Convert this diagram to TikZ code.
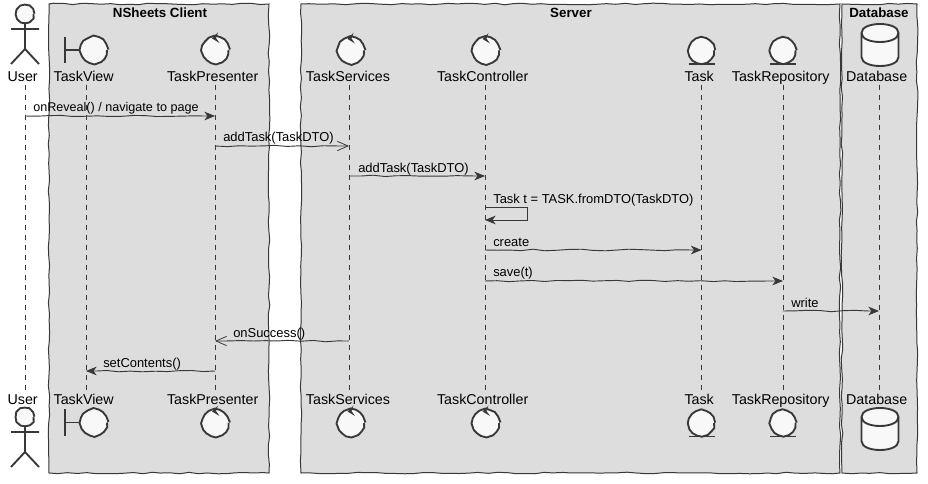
\documentclass[tikz,border=0pt]{standalone}
\usepackage{fontspec}
\setmainfont{Liberation Sans}
\usetikzlibrary{arrows.meta,decorations.pathmorphing}
\definecolor{ink}{HTML}{383838}
\definecolor{boxbg}{HTML}{DDDDDD}
\definecolor{headbg}{HTML}{F8F8F8}
\tikzset{
  wob/.style={decorate,decoration={random steps,segment length=7pt,amplitude=0.6pt}},
  wobc/.style={decorate,decoration={random steps,segment length=3.5pt,amplitude=0.3pt}},
  groupbox/.style={draw=ink,line width=0.75pt,fill=boxbg,wob},
  grouptitle/.style={font=\fontsize{10}{12}\selectfont\bfseries,text=black,inner sep=0pt},
  plabel/.style={font=\fontsize{10.7}{13}\selectfont,text=black,inner sep=0pt,text height=8pt,text depth=2.4pt},
  mlabel/.style={font=\fontsize{9.7}{11}\selectfont,text=black,inner sep=0pt,anchor=base west},
  lifeline/.style={draw=ink,line width=0.75pt,dash pattern=on 3.75pt off 3.75pt},
  msgbase/.style={draw=ink,line width=0.7pt,decorate,decoration={random steps,segment length=9pt,amplitude=0.6pt,post length=8pt}},
  msgfill/.style={msgbase,-{Stealth[length=8pt,width=6.5pt,inset=2.4pt]}},
  msgopen/.style={msgbase,-{Straight Barb[length=8pt,width=7pt,line width=0.6pt]}},
  icon/.style={draw=ink,line width=1.4pt,line join=round},
  iconhead/.style={icon,fill=headbg,wobc},
}
\newcommand{\iActor}[2]{%
  \draw[iconhead] (#1,#2) circle (8.5);
  \draw[icon] (#1,#2+8.5) -- (#1,#2+35) (#1-14,#2+15) -- (#1+14,#2+15)
     (#1-14,#2+50) -- (#1,#2+35) -- (#1+14,#2+50);}
\newcommand{\iBoundary}[2]{%
  \draw[icon] (#1-21,#2-13) -- (#1-21,#2+13) (#1-21,#2) -- (#1-4,#2);
  \draw[iconhead] (#1+8,#2) circle (13);}
\newcommand{\iControl}[2]{%
  \draw[iconhead] (#1,#2) circle (13);
  \fill[ink] (#1+2.5,#2-17.5) -- (#1-3.5,#2-11.5) -- (#1+4,#2-7) -- (#1+0.5,#2-12) -- cycle;}
\newcommand{\iEntity}[2]{%
  \draw[iconhead] (#1,#2) circle (12.5);
  \draw[icon] (#1-13,#2+13.5) -- (#1+13,#2+13.5);}
\newcommand{\iDb}[2]{%
  \draw[icon,fill=headbg] (#1-18.5,#2+9) -- (#1-18.5,#2+33) .. controls (#1-18.5,#2+45) and (#1+18.5,#2+45) .. (#1+18.5,#2+33) -- (#1+18.5,#2+9) .. controls (#1+18.5,#2-3) and (#1-18.5,#2-3) .. (#1-18.5,#2+9) -- cycle;
  \draw[icon] (#1-18.5,#2+9) .. controls (#1-18.5,#2+21) and (#1+18.5,#2+21) .. (#1+18.5,#2+9);}
\begin{document}
\begin{tikzpicture}[x=0.75pt,y=-0.75pt]
\pgfmathsetseed{11}
\useasboundingbox[fill=white] (0,0) rectangle (928,484);
% group boxes
\path[groupbox] (49,4) rectangle (269,473);
\path[groupbox] (301,4) rectangle (840,473);
\path[groupbox] (842,4) rectangle (917,473);
\node[grouptitle] (gClient) at (160,12.5) {NSheets Client};
\node[grouptitle] (gServer) at (571,12.5) {Server};
\node[grouptitle] (gDb) at (879,12.5) {Database};
% participant labels
\foreach \n/\x/\t/\p in {User/25/User/3.5,View/86/TaskView/3.5,Pres/215/TaskPresenter/3.5,Serv/349/TaskServices/1.5,Ctrl/485/TaskController/3.5,Task/701.5/Task/3.5,Repo/783/TaskRepository/3.5,Dbase/879/Database/3.5}{
  \node[plabel] (\n) at (\x,77.5) {\t\rule{\p pt}{0pt}};
  \node[plabel] (\n B) at (\x,400.5) {\t\rule{\p pt}{0pt}};
  \path[lifeline] (\n.south) -- (\n B.north);
}
% icons
\iActor{25}{14}
\iBoundary{86}{50}
\iControl{215.5}{50}
\iControl{351}{50.5}
\iControl{486}{50.5}
\iEntity{701.5}{50.5}
\iEntity{783}{50.5}
\iDb{880}{24}
\iActor{25}{417}
\iBoundary{86}{422.5}
\iControl{215.5}{423}
\iControl{351}{423}
\iControl{486}{423}
\iEntity{701.5}{423}
\iEntity{783}{423}
\iDb{880}{408}
% message rows
\foreach \r/\y in {r1/116,r2/146,r3/176,r4/207,r4b/220,r5/250,r6/281,r7/311,r8/341,r9/371}{
  \coordinate (\r) at (0,\y);
}
\coordinate (selfx) at (527,0);
\draw[msgfill] (User |- r1) -- (Pres |- r1);
\draw[msgopen] (Pres |- r2) -- (Serv |- r2);
\draw[msgfill] (Serv |- r3) -- (Ctrl |- r3);
\draw[draw=ink,line width=0.7pt,-{Stealth[length=8pt,width=6.5pt,inset=2.4pt]}] (Ctrl |- r4) -- (selfx |- r4) -- (selfx |- r4b) -- (Ctrl |- r4b);
\draw[msgfill] (Ctrl |- r5) -- (Task |- r5);
\draw[msgfill] (Ctrl |- r6) -- (Repo |- r6);
\draw[msgfill] (Repo |- r7) -- (Dbase |- r7);
\draw[msgopen] (Serv |- r8) -- (Pres |- r8);
\draw[msgfill] (Pres |- r9) -- (View |- r9);
% message labels
\node[mlabel,font=\fontsize{9.45}{11}\selectfont] (m1) at (33,111.5) {onReveal() / navigate to page};
\node[mlabel] (m2) at (223,141.5) {addTask(TaskDTO)};
\node[mlabel] (m3) at (358,172.5) {addTask(TaskDTO)};
\node[mlabel] (m4) at (493,203.5) {Task t = TASK.fromDTO(TaskDTO)};
\node[mlabel] (m5) at (493,246.5) {create};
\node[mlabel] (m6) at (493,276.5) {save(t)};
\node[mlabel] (m7) at (791,307.5) {write};
\node[mlabel] (m8) at (233,337.5) {onSuccess()};
\node[mlabel] (m9) at (103,367.5) {setContents()};
\end{tikzpicture}
\end{document}
